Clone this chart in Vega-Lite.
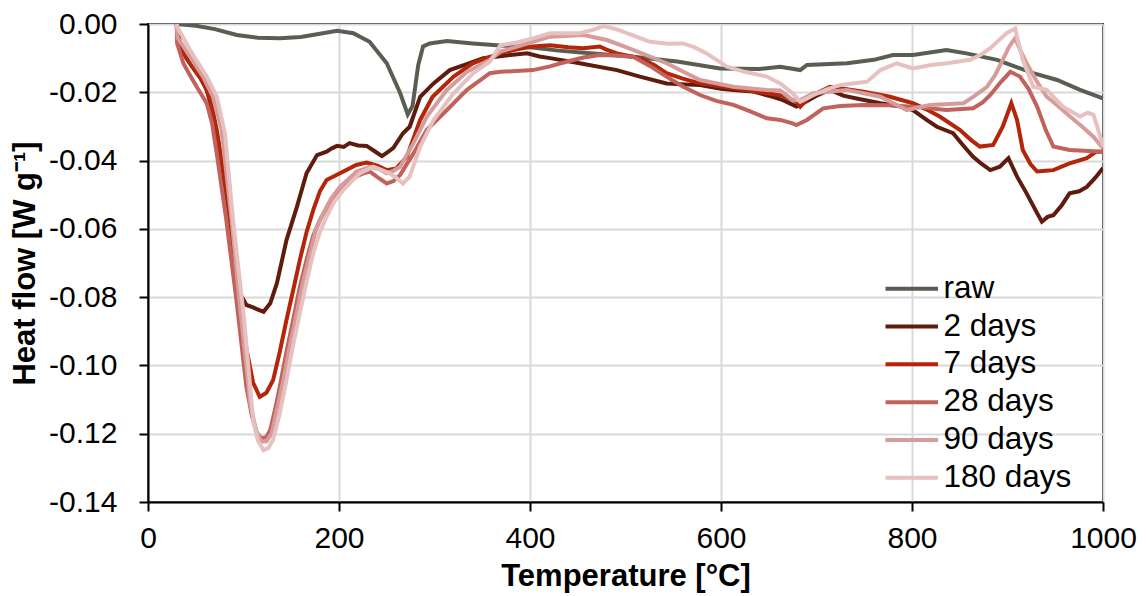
{
  "$schema": "https://vega.github.io/schema/vega-lite/v6.json",
  "width": 955,
  "height": 478,
  "autosize": {"type": "none"},
  "padding": {"left": 148, "top": 24, "right": 45, "bottom": 94},
  "background": "white",
  "config": {
    "view": {"stroke": "#000000", "strokeWidth": 2},
    "font": "Liberation Sans",
    "axis": {
      "labelFont": "Liberation Sans",
      "labelFontSize": 30,
      "labelColor": "#000000",
      "titleFont": "Liberation Sans",
      "titleFontSize": 31,
      "titleFontWeight": "bold",
      "titleColor": "#000000",
      "domainColor": "#000000",
      "domainWidth": 2,
      "tickColor": "#000000",
      "tickWidth": 2,
      "tickSize": 9,
      "gridColor": "#d9d9d9",
      "gridWidth": 2
    },
    "legend": {
      "labelFont": "Liberation Sans",
      "labelFontSize": 31.5,
      "labelColor": "#000000"
    }
  },
  "data": {"values": [
    {"s":"raw","T":30,"v":0},{"s":"raw","T":50,"v":-0.0005},{"s":"raw","T":70,"v":-0.0015},{"s":"raw","T":93,"v":-0.0032},{"s":"raw","T":115,"v":-0.004},{"s":"raw","T":138,"v":-0.0042},{"s":"raw","T":160,"v":-0.0038},{"s":"raw","T":177,"v":-0.003},{"s":"raw","T":198,"v":-0.002},{"s":"raw","T":215,"v":-0.0027},{"s":"raw","T":232,"v":-0.0052},{"s":"raw","T":250,"v":-0.0115},{"s":"raw","T":264,"v":-0.0202},{"s":"raw","T":272,"v":-0.0265},{"s":"raw","T":277,"v":-0.024},{"s":"raw","T":283,"v":-0.012},{"s":"raw","T":288,"v":-0.0066},{"s":"raw","T":295,"v":-0.0057},{"s":"raw","T":313,"v":-0.005},{"s":"raw","T":340,"v":-0.0057},{"s":"raw","T":365,"v":-0.0062},{"s":"raw","T":400,"v":-0.0068},{"s":"raw","T":430,"v":-0.0078},{"s":"raw","T":460,"v":-0.0085},{"s":"raw","T":508,"v":-0.0096},{"s":"raw","T":554,"v":-0.011},{"s":"raw","T":599,"v":-0.013},{"s":"raw","T":640,"v":-0.0132},{"s":"raw","T":662,"v":-0.0125},{"s":"raw","T":683,"v":-0.0135},{"s":"raw","T":690,"v":-0.012},{"s":"raw","T":732,"v":-0.0115},{"s":"raw","T":760,"v":-0.0105},{"s":"raw","T":780,"v":-0.0091},{"s":"raw","T":801,"v":-0.0091},{"s":"raw","T":836,"v":-0.0076},{"s":"raw","T":857,"v":-0.0086},{"s":"raw","T":889,"v":-0.0105},{"s":"raw","T":927,"v":-0.0144},{"s":"raw","T":952,"v":-0.0164},{"s":"raw","T":976,"v":-0.0193},{"s":"raw","T":1000,"v":-0.0218},

    {"s":"2 days","T":30,"v":0},{"s":"2 days","T":32,"v":-0.004},{"s":"2 days","T":37,"v":-0.0085},{"s":"2 days","T":45,"v":-0.012},{"s":"2 days","T":54,"v":-0.0154},{"s":"2 days","T":61.5,"v":-0.0193},{"s":"2 days","T":68,"v":-0.026},{"s":"2 days","T":75,"v":-0.0369},{"s":"2 days","T":86,"v":-0.0574},{"s":"2 days","T":96,"v":-0.0788},{"s":"2 days","T":103,"v":-0.0823},{"s":"2 days","T":110,"v":-0.083},{"s":"2 days","T":114,"v":-0.0835},{"s":"2 days","T":121,"v":-0.0843},{"s":"2 days","T":128,"v":-0.0818},{"s":"2 days","T":135,"v":-0.0759},{"s":"2 days","T":145,"v":-0.0633},{"s":"2 days","T":156,"v":-0.0535},{"s":"2 days","T":166,"v":-0.0437},{"s":"2 days","T":177,"v":-0.0384},{"s":"2 days","T":187,"v":-0.0374},{"s":"2 days","T":192,"v":-0.0365},{"s":"2 days","T":198,"v":-0.0357},{"s":"2 days","T":205,"v":-0.036},{"s":"2 days","T":211,"v":-0.0349},{"s":"2 days","T":220,"v":-0.0356},{"s":"2 days","T":229,"v":-0.0357},{"s":"2 days","T":237,"v":-0.0372},{"s":"2 days","T":245,"v":-0.0387},{"s":"2 days","T":251,"v":-0.0375},{"s":"2 days","T":257,"v":-0.0363},{"s":"2 days","T":267,"v":-0.032},{"s":"2 days","T":274,"v":-0.0301},{"s":"2 days","T":285,"v":-0.0213},{"s":"2 days","T":299,"v":-0.0174},{"s":"2 days","T":316,"v":-0.0135},{"s":"2 days","T":333,"v":-0.0118},{"s":"2 days","T":351,"v":-0.01},{"s":"2 days","T":375,"v":-0.0092},{"s":"2 days","T":397,"v":-0.0086},{"s":"2 days","T":410,"v":-0.0095},{"s":"2 days","T":421,"v":-0.01},{"s":"2 days","T":452,"v":-0.0115},{"s":"2 days","T":491,"v":-0.0135},{"s":"2 days","T":515,"v":-0.0154},{"s":"2 days","T":543,"v":-0.0174},{"s":"2 days","T":578,"v":-0.0179},{"s":"2 days","T":600,"v":-0.019},{"s":"2 days","T":613,"v":-0.0193},{"s":"2 days","T":634,"v":-0.0198},{"s":"2 days","T":650,"v":-0.021},{"s":"2 days","T":665,"v":-0.0223},{"s":"2 days","T":679,"v":-0.0242},{"s":"2 days","T":686,"v":-0.0232},{"s":"2 days","T":700,"v":-0.021},{"s":"2 days","T":714,"v":-0.0193},{"s":"2 days","T":728,"v":-0.021},{"s":"2 days","T":742,"v":-0.0218},{"s":"2 days","T":767,"v":-0.0232},{"s":"2 days","T":785,"v":-0.024},{"s":"2 days","T":801,"v":-0.0252},{"s":"2 days","T":815,"v":-0.028},{"s":"2 days","T":826,"v":-0.0301},{"s":"2 days","T":843,"v":-0.032},{"s":"2 days","T":855,"v":-0.036},{"s":"2 days","T":864,"v":-0.0389},{"s":"2 days","T":873,"v":-0.041},{"s":"2 days","T":882,"v":-0.0428},{"s":"2 days","T":892,"v":-0.0418},{"s":"2 days","T":901,"v":-0.0393},{"s":"2 days","T":910,"v":-0.0447},{"s":"2 days","T":920,"v":-0.0496},{"s":"2 days","T":931,"v":-0.0554},{"s":"2 days","T":936,"v":-0.0579},{"s":"2 days","T":942,"v":-0.0565},{"s":"2 days","T":948,"v":-0.056},{"s":"2 days","T":957,"v":-0.053},{"s":"2 days","T":965,"v":-0.0496},{"s":"2 days","T":975,"v":-0.049},{"s":"2 days","T":983,"v":-0.0477},{"s":"2 days","T":992,"v":-0.045},{"s":"2 days","T":1000,"v":-0.0422},

    {"s":"7 days","T":30,"v":0},{"s":"7 days","T":33,"v":-0.005},{"s":"7 days","T":40,"v":-0.01},{"s":"7 days","T":50,"v":-0.014},{"s":"7 days","T":58,"v":-0.017},{"s":"7 days","T":65,"v":-0.022},{"s":"7 days","T":72,"v":-0.031},{"s":"7 days","T":80,"v":-0.045},{"s":"7 days","T":88,"v":-0.062},{"s":"7 days","T":96,"v":-0.08},{"s":"7 days","T":103,"v":-0.095},{"s":"7 days","T":110,"v":-0.105},{"s":"7 days","T":117,"v":-0.1092},{"s":"7 days","T":124,"v":-0.108},{"s":"7 days","T":131,"v":-0.1043},{"s":"7 days","T":138,"v":-0.096},{"s":"7 days","T":145,"v":-0.0867},{"s":"7 days","T":152,"v":-0.078},{"s":"7 days","T":159,"v":-0.0691},{"s":"7 days","T":166,"v":-0.061},{"s":"7 days","T":173,"v":-0.0545},{"s":"7 days","T":180,"v":-0.049},{"s":"7 days","T":187,"v":-0.0457},{"s":"7 days","T":201,"v":-0.0437},{"s":"7 days","T":218,"v":-0.0413},{"s":"7 days","T":229,"v":-0.0406},{"s":"7 days","T":240,"v":-0.0415},{"s":"7 days","T":250,"v":-0.0428},{"s":"7 days","T":260,"v":-0.0423},{"s":"7 days","T":271,"v":-0.0389},{"s":"7 days","T":285,"v":-0.0281},{"s":"7 days","T":298,"v":-0.0213},{"s":"7 days","T":320,"v":-0.0154},{"s":"7 days","T":340,"v":-0.0115},{"s":"7 days","T":358,"v":-0.0096},{"s":"7 days","T":369,"v":-0.0086},{"s":"7 days","T":385,"v":-0.0075},{"s":"7 days","T":403,"v":-0.0066},{"s":"7 days","T":421,"v":-0.0062},{"s":"7 days","T":440,"v":-0.0068},{"s":"7 days","T":456,"v":-0.0071},{"s":"7 days","T":473,"v":-0.0066},{"s":"7 days","T":480,"v":-0.0075},{"s":"7 days","T":491,"v":-0.0086},{"s":"7 days","T":515,"v":-0.01},{"s":"7 days","T":530,"v":-0.012},{"s":"7 days","T":543,"v":-0.0144},{"s":"7 days","T":560,"v":-0.016},{"s":"7 days","T":578,"v":-0.0174},{"s":"7 days","T":613,"v":-0.0188},{"s":"7 days","T":648,"v":-0.0203},{"s":"7 days","T":665,"v":-0.021},{"s":"7 days","T":679,"v":-0.0228},{"s":"7 days","T":683,"v":-0.0242},{"s":"7 days","T":693,"v":-0.0213},{"s":"7 days","T":714,"v":-0.0184},{"s":"7 days","T":730,"v":-0.019},{"s":"7 days","T":749,"v":-0.0198},{"s":"7 days","T":777,"v":-0.0213},{"s":"7 days","T":801,"v":-0.0232},{"s":"7 days","T":815,"v":-0.025},{"s":"7 days","T":829,"v":-0.0271},{"s":"7 days","T":850,"v":-0.031},{"s":"7 days","T":862,"v":-0.034},{"s":"7 days","T":871,"v":-0.0359},{"s":"7 days","T":885,"v":-0.0354},{"s":"7 days","T":895,"v":-0.0301},{"s":"7 days","T":904,"v":-0.0232},{"s":"7 days","T":910,"v":-0.0281},{"s":"7 days","T":916,"v":-0.0369},{"s":"7 days","T":924,"v":-0.041},{"s":"7 days","T":931,"v":-0.0432},{"s":"7 days","T":940,"v":-0.043},{"s":"7 days","T":948,"v":-0.0428},{"s":"7 days","T":965,"v":-0.0408},{"s":"7 days","T":983,"v":-0.0393},{"s":"7 days","T":993,"v":-0.0374},{"s":"7 days","T":1000,"v":-0.0374},

    {"s":"28 days","T":30,"v":0},{"s":"28 days","T":30.5,"v":-0.0057},{"s":"28 days","T":37,"v":-0.0115},{"s":"28 days","T":44,"v":-0.015},{"s":"28 days","T":51,"v":-0.0184},{"s":"28 days","T":61.5,"v":-0.0232},{"s":"28 days","T":67,"v":-0.029},{"s":"28 days","T":72,"v":-0.0379},{"s":"28 days","T":82,"v":-0.0574},{"s":"28 days","T":93,"v":-0.0818},{"s":"28 days","T":103,"v":-0.1062},{"s":"28 days","T":109,"v":-0.115},{"s":"28 days","T":114,"v":-0.1199},{"s":"28 days","T":119,"v":-0.1213},{"s":"28 days","T":124,"v":-0.121},{"s":"28 days","T":128,"v":-0.1189},{"s":"28 days","T":133,"v":-0.113},{"s":"28 days","T":138,"v":-0.1062},{"s":"28 days","T":145,"v":-0.096},{"s":"28 days","T":152,"v":-0.0867},{"s":"28 days","T":159,"v":-0.077},{"s":"28 days","T":166,"v":-0.0691},{"s":"28 days","T":173,"v":-0.062},{"s":"28 days","T":180,"v":-0.0574},{"s":"28 days","T":194,"v":-0.0506},{"s":"28 days","T":211,"v":-0.0457},{"s":"28 days","T":225,"v":-0.0438},{"s":"28 days","T":232,"v":-0.0432},{"s":"28 days","T":241,"v":-0.045},{"s":"28 days","T":250,"v":-0.0467},{"s":"28 days","T":257,"v":-0.046},{"s":"28 days","T":264,"v":-0.0442},{"s":"28 days","T":278,"v":-0.0379},{"s":"28 days","T":292,"v":-0.031},{"s":"28 days","T":313,"v":-0.0252},{"s":"28 days","T":334,"v":-0.0193},{"s":"28 days","T":358,"v":-0.0144},{"s":"28 days","T":369,"v":-0.014},{"s":"28 days","T":403,"v":-0.0135},{"s":"28 days","T":420,"v":-0.0125},{"s":"28 days","T":439,"v":-0.011},{"s":"28 days","T":456,"v":-0.0098},{"s":"28 days","T":473,"v":-0.0091},{"s":"28 days","T":490,"v":-0.0092},{"s":"28 days","T":508,"v":-0.0096},{"s":"28 days","T":525,"v":-0.0122},{"s":"28 days","T":543,"v":-0.0154},{"s":"28 days","T":560,"v":-0.0183},{"s":"28 days","T":578,"v":-0.0208},{"s":"28 days","T":595,"v":-0.0225},{"s":"28 days","T":613,"v":-0.0237},{"s":"28 days","T":630,"v":-0.0255},{"s":"28 days","T":648,"v":-0.0276},{"s":"28 days","T":662,"v":-0.0281},{"s":"28 days","T":675,"v":-0.0291},{"s":"28 days","T":679,"v":-0.0296},{"s":"28 days","T":690,"v":-0.0281},{"s":"28 days","T":707,"v":-0.0247},{"s":"28 days","T":725,"v":-0.024},{"s":"28 days","T":749,"v":-0.0237},{"s":"28 days","T":775,"v":-0.0238},{"s":"28 days","T":801,"v":-0.0242},{"s":"28 days","T":836,"v":-0.0252},{"s":"28 days","T":864,"v":-0.0247},{"s":"28 days","T":874,"v":-0.023},{"s":"28 days","T":882,"v":-0.0208},{"s":"28 days","T":893,"v":-0.017},{"s":"28 days","T":903,"v":-0.014},{"s":"28 days","T":913,"v":-0.0154},{"s":"28 days","T":922,"v":-0.019},{"s":"28 days","T":931,"v":-0.0242},{"s":"28 days","T":940,"v":-0.031},{"s":"28 days","T":948,"v":-0.0359},{"s":"28 days","T":965,"v":-0.0369},{"s":"28 days","T":1000,"v":-0.0374},

    {"s":"90 days","T":30,"v":0},{"s":"90 days","T":31,"v":-0.004},{"s":"90 days","T":44,"v":-0.0096},{"s":"90 days","T":57.6,"v":-0.0154},{"s":"90 days","T":68,"v":-0.0213},{"s":"90 days","T":77,"v":-0.031},{"s":"90 days","T":87.6,"v":-0.0574},{"s":"90 days","T":96,"v":-0.0818},{"s":"90 days","T":101,"v":-0.095},{"s":"90 days","T":107,"v":-0.111},{"s":"90 days","T":113,"v":-0.119},{"s":"90 days","T":119,"v":-0.1223},{"s":"90 days","T":124,"v":-0.1222},{"s":"90 days","T":129.5,"v":-0.1199},{"s":"90 days","T":135,"v":-0.113},{"s":"90 days","T":141.7,"v":-0.1043},{"s":"90 days","T":148,"v":-0.095},{"s":"90 days","T":155.7,"v":-0.0847},{"s":"90 days","T":162,"v":-0.076},{"s":"90 days","T":169.6,"v":-0.0672},{"s":"90 days","T":176,"v":-0.06},{"s":"90 days","T":183.6,"v":-0.0554},{"s":"90 days","T":192,"v":-0.051},{"s":"90 days","T":201,"v":-0.0477},{"s":"90 days","T":218.5,"v":-0.0432},{"s":"90 days","T":232.5,"v":-0.0418},{"s":"90 days","T":242,"v":-0.0425},{"s":"90 days","T":250,"v":-0.0437},{"s":"90 days","T":257,"v":-0.043},{"s":"90 days","T":264,"v":-0.0418},{"s":"90 days","T":278,"v":-0.0349},{"s":"90 days","T":292,"v":-0.0271},{"s":"90 days","T":313,"v":-0.0193},{"s":"90 days","T":334,"v":-0.014},{"s":"90 days","T":358,"v":-0.0105},{"s":"90 days","T":369,"v":-0.0081},{"s":"90 days","T":403,"v":-0.0052},{"s":"90 days","T":421,"v":-0.0037},{"s":"90 days","T":456,"v":-0.0032},{"s":"90 days","T":480.6,"v":-0.0047},{"s":"90 days","T":508,"v":-0.0076},{"s":"90 days","T":543,"v":-0.0115},{"s":"90 days","T":578,"v":-0.0164},{"s":"90 days","T":613,"v":-0.0184},{"s":"90 days","T":648,"v":-0.0193},{"s":"90 days","T":662,"v":-0.0195},{"s":"90 days","T":675,"v":-0.0223},{"s":"90 days","T":683,"v":-0.0223},{"s":"90 days","T":697,"v":-0.0203},{"s":"90 days","T":732,"v":-0.0193},{"s":"90 days","T":767,"v":-0.0213},{"s":"90 days","T":794.5,"v":-0.0252},{"s":"90 days","T":819,"v":-0.0237},{"s":"90 days","T":854,"v":-0.0232},{"s":"90 days","T":866,"v":-0.021},{"s":"90 days","T":878.5,"v":-0.0184},{"s":"90 days","T":887,"v":-0.015},{"s":"90 days","T":895,"v":-0.0105},{"s":"90 days","T":902,"v":-0.0065},{"s":"90 days","T":908,"v":-0.0042},{"s":"90 days","T":914,"v":-0.008},{"s":"90 days","T":920,"v":-0.0115},{"s":"90 days","T":930,"v":-0.0165},{"s":"90 days","T":941,"v":-0.0213},{"s":"90 days","T":953,"v":-0.024},{"s":"90 days","T":965.5,"v":-0.0271},{"s":"90 days","T":978,"v":-0.03},{"s":"90 days","T":990,"v":-0.033},{"s":"90 days","T":1000,"v":-0.0364},

    {"s":"180 days","T":30,"v":0},{"s":"180 days","T":31,"v":-0.001},{"s":"180 days","T":44,"v":-0.0076},{"s":"180 days","T":61.5,"v":-0.0154},{"s":"180 days","T":72,"v":-0.0213},{"s":"180 days","T":80.6,"v":-0.032},{"s":"180 days","T":89,"v":-0.0574},{"s":"180 days","T":100,"v":-0.0847},{"s":"180 days","T":105,"v":-0.1},{"s":"180 days","T":110,"v":-0.116},{"s":"180 days","T":115,"v":-0.122},{"s":"180 days","T":121,"v":-0.1248},{"s":"180 days","T":126,"v":-0.1242},{"s":"180 days","T":131,"v":-0.1218},{"s":"180 days","T":138,"v":-0.114},{"s":"180 days","T":145,"v":-0.1043},{"s":"180 days","T":152,"v":-0.094},{"s":"180 days","T":159,"v":-0.0847},{"s":"180 days","T":166,"v":-0.0755},{"s":"180 days","T":173,"v":-0.0672},{"s":"180 days","T":180,"v":-0.061},{"s":"180 days","T":187,"v":-0.0564},{"s":"180 days","T":195,"v":-0.052},{"s":"180 days","T":204.5,"v":-0.0486},{"s":"180 days","T":222,"v":-0.0437},{"s":"180 days","T":236,"v":-0.0418},{"s":"180 days","T":253,"v":-0.0437},{"s":"180 days","T":262,"v":-0.0455},{"s":"180 days","T":267,"v":-0.0467},{"s":"180 days","T":274,"v":-0.0447},{"s":"180 days","T":285,"v":-0.0359},{"s":"180 days","T":299,"v":-0.0281},{"s":"180 days","T":320,"v":-0.0203},{"s":"180 days","T":340.6,"v":-0.0144},{"s":"180 days","T":358,"v":-0.011},{"s":"180 days","T":369,"v":-0.0062},{"s":"180 days","T":385,"v":-0.0055},{"s":"180 days","T":403,"v":-0.0042},{"s":"180 days","T":421,"v":-0.0027},{"s":"180 days","T":452,"v":-0.0027},{"s":"180 days","T":465,"v":-0.0018},{"s":"180 days","T":477,"v":-0.0006},{"s":"180 days","T":490,"v":-0.0015},{"s":"180 days","T":501.5,"v":-0.0027},{"s":"180 days","T":525.6,"v":-0.0052},{"s":"180 days","T":545,"v":-0.0058},{"s":"180 days","T":560,"v":-0.0057},{"s":"180 days","T":572,"v":-0.0068},{"s":"180 days","T":585,"v":-0.0086},{"s":"180 days","T":606,"v":-0.0125},{"s":"180 days","T":625,"v":-0.014},{"s":"180 days","T":648,"v":-0.0154},{"s":"180 days","T":662,"v":-0.0174},{"s":"180 days","T":675,"v":-0.0203},{"s":"180 days","T":683,"v":-0.0228},{"s":"180 days","T":697,"v":-0.0208},{"s":"180 days","T":712,"v":-0.019},{"s":"180 days","T":724.6,"v":-0.0179},{"s":"180 days","T":738,"v":-0.0174},{"s":"180 days","T":753,"v":-0.0169},{"s":"180 days","T":767,"v":-0.0135},{"s":"180 days","T":784,"v":-0.0115},{"s":"180 days","T":801,"v":-0.013},{"s":"180 days","T":820,"v":-0.012},{"s":"180 days","T":836.5,"v":-0.0115},{"s":"180 days","T":861,"v":-0.0105},{"s":"180 days","T":872,"v":-0.009},{"s":"180 days","T":882,"v":-0.0071},{"s":"180 days","T":899,"v":-0.0027},{"s":"180 days","T":908,"v":-0.0013},{"s":"180 days","T":916,"v":-0.0105},{"s":"180 days","T":927,"v":-0.0184},{"s":"180 days","T":941,"v":-0.0193},{"s":"180 days","T":958,"v":-0.0242},{"s":"180 days","T":976,"v":-0.0271},{"s":"180 days","T":984,"v":-0.026},{"s":"180 days","T":990,"v":-0.0266},{"s":"180 days","T":995,"v":-0.031},{"s":"180 days","T":1000,"v":-0.0359}
  ]},
  "mark": {"type": "line", "strokeWidth": 4, "clip": true},
  "encoding": {
    "x": {
      "field": "T", "type": "quantitative",
      "scale": {"domain": [0, 1000], "nice": false},
      "axis": {"values": [0, 200, 400, 600, 800, 1000], "format": "d", "labelFlush": false, "labelOverlap": false, "title": "Temperature [°C]", "labelPadding": 12, "titlePadding": 8}
    },
    "y": {
      "field": "v", "type": "quantitative",
      "scale": {"domain": [-0.14, 0], "nice": false, "zero": false},
      "axis": {
        "values": [-0.14, -0.12, -0.1, -0.08, -0.06, -0.04, -0.02, 0],
        "labelExpr": "replace(format(datum.value, '.2f'), '\u2212', '-')",
        "labelFlush": false,
        "title": "Heat flow [W g\u207b\u00b9]",
        "labelPadding": 22,
        "titlePadding": 7
      }
    },
    "color": {
      "field": "s", "type": "nominal",
      "scale": {
        "domain": ["raw", "2 days", "7 days", "28 days", "90 days", "180 days"],
        "range": ["#595d52", "#5f1b0e", "#b3260a", "#c1625c", "#d69c9b", "#e6c1bf"]
      },
      "legend": {
        "title": null,
        "orient": "none",
        "legendX": 748,
        "legendY": 249,
        "symbolType": "M-2.5,0H2.5",
        "symbolStrokeWidth": 4,
        "symbolSize": 441,
        "rowPadding": 4.8,
        "labelOffset": 16
      }
    }
  }
}
